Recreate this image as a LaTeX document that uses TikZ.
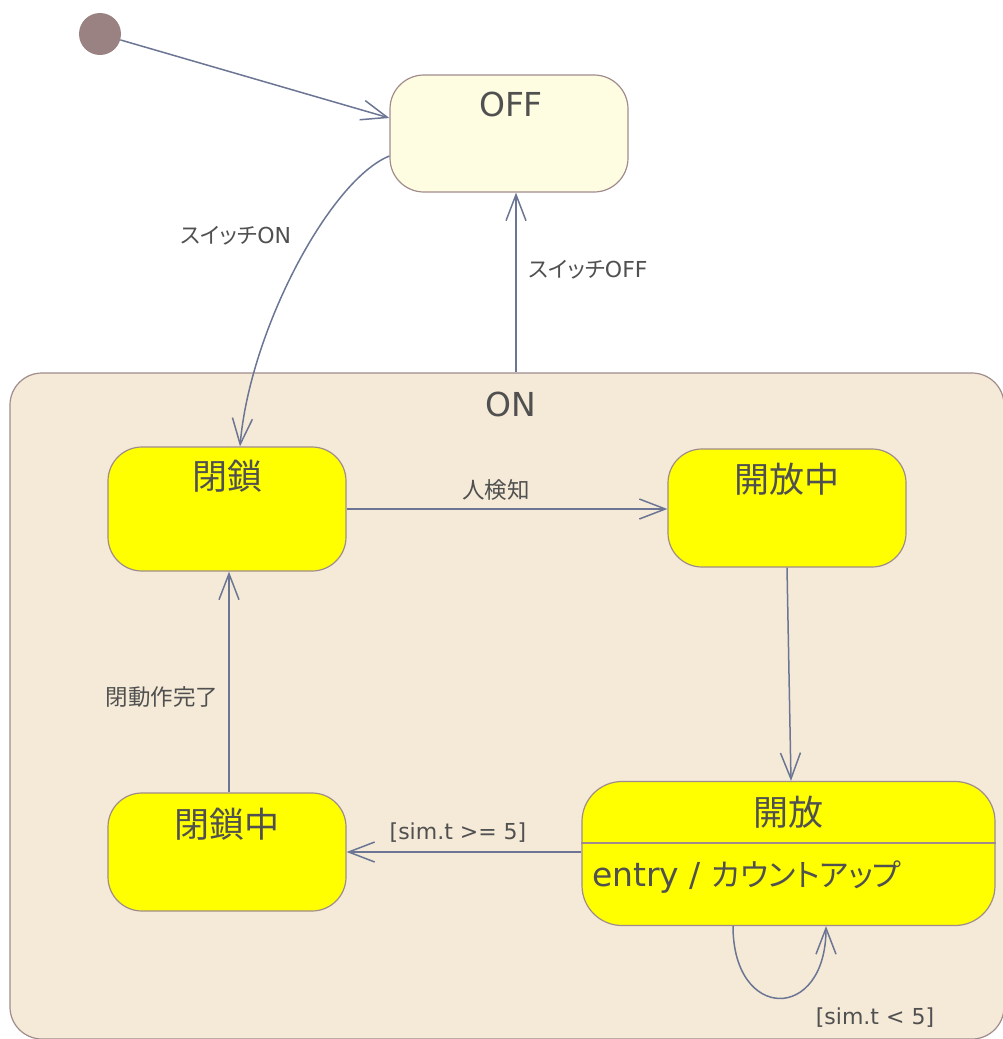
\documentclass[tikz,border=0pt]{standalone}
\usepackage{fontspec}
\setmainfont{DejaVu Sans}
\newfontfamily\jp{Noto Sans CJK JP}[RawFeature=+palt]
\usetikzlibrary{arrows.meta}
\definecolor{linec}{RGB}{108,118,148}
\definecolor{borderc}{RGB}{160,140,140}
\definecolor{initc}{RGB}{155,130,130}
\definecolor{offfill}{RGB}{255,253,225}
\definecolor{onfill}{RGB}{244,234,215}
\definecolor{stfill}{RGB}{255,255,0}
\definecolor{txtc}{RGB}{80,80,80}
\tikzset{
  statebox/.style={draw=borderc, line width=1.2pt, rounded corners=34pt, inner sep=0pt},
  title/.style={text=txtc, font=\fontsize{33}{36}\selectfont, inner sep=0pt},
  jtitle/.style={text=txtc, font=\jp\fontsize{35}{38}\selectfont, inner sep=0pt},
  lbl/.style={text=txtc, font=\fontsize{22}{25}\selectfont, inner sep=0pt},
  jlbl/.style={text=txtc, font=\jp\fontsize{22.5}{25}\selectfont, inner sep=0pt},
  arr/.style={draw=linec, line width=1.5pt, -{Straight Barb[length=26pt,width=20pt,line width=1.5pt]}},
}
\begin{document}
\begin{tikzpicture}[x=1pt,y=-1pt]
\useasboundingbox (0,0) rectangle (1003,1039);
% composite state ON
\node[statebox, fill=onfill, rounded corners=32pt, minimum width=994pt, minimum height=666pt] (on) at (507,706) {};
\node[title] (on-t) at (511,404) {ON};
% initial
\node[circle, fill=initc, minimum size=42pt, inner sep=0pt] (init) at (100,34) {};
% OFF
\node[statebox, fill=offfill, minimum width=238pt, minimum height=117pt] (off) at (509,133.5) {};
\node[title] (off-t) at ([xshift=2pt,yshift=-30pt]off.north) {OFF};
% states
\node[statebox, fill=stfill, minimum width=238pt, minimum height=124pt] (heisa) at (227,509) {};
\node[jtitle] (heisa-t) at ([yshift=-30pt]heisa.north) {閉鎖};
\node[statebox, fill=stfill, minimum width=238pt, minimum height=118pt] (kaihouchu) at (787,508) {};
\node[jtitle] (kaihouchu-t) at ([yshift=-31pt]kaihouchu.north) {開放中};
\node[statebox, fill=stfill, rounded corners=40pt, minimum width=413pt, minimum height=144pt] (kaihou) at (788.5,853.5) {};
\node[jtitle] (kaihou-t) at ([yshift=-31pt]kaihou.north) {開放};
\draw[borderc, line width=1.2pt] ([yshift=10.5pt]kaihou.west) -- ([yshift=10.5pt]kaihou.east);
\node[title, anchor=base west] (kaihou-e) at (592,886) {entry / {\jp\fontsize{31}{34}\selectfont カウントアップ}};
\node[statebox, fill=stfill, minimum width=238pt, minimum height=118pt] (heisachu) at (227,852) {};
\node[jtitle] (heisachu-t) at ([yshift=-32pt]heisachu.north) {閉鎖中};
% transitions
\draw[arr] (init) -- ([yshift=15.5pt]off.west);
\draw[arr] ([yshift=-22.5pt]off.west) .. controls (330,180) and (250,330) .. ([xshift=13pt]heisa.north);
\node[lbl] (l-swon) at (236,236) {{\jp\fontsize{22}{25}\selectfont スイッチ}ON};
\draw[arr] ([xshift=9pt]on.north) -- ([xshift=7pt]off.south);
\node[lbl] (l-swoff) at (588,270) {{\jp\fontsize{22}{25}\selectfont スイッチ}OFF};
\draw[arr] (heisa.east) -- (heisa.east -| kaihouchu.west);
\node[jlbl] (l-hito) at (496,490) {人検知};
\draw[arr] (kaihou.west |- heisachu.east) -- (heisachu.east);
\node[lbl] (l-ge) at (458,833) {[sim.t >= 5]};
\draw[arr] (kaihouchu.south) -- ([xshift=2.5pt]kaihou.north);
\draw[arr] ([xshift=2pt]heisachu.north) -- ([xshift=2pt]heisachu.north |- heisa.south);
\node[jlbl] (l-kan) at (162,697) {閉動作完了};
\draw[arr] ([xshift=-55.5pt]kaihou.south) .. controls +(0,96) and +(0,96) .. ([xshift=37.5pt]kaihou.south);
\node[lbl] (l-lt) at (875,1018) {[sim.t < 5]};
\end{tikzpicture}
\end{document}
